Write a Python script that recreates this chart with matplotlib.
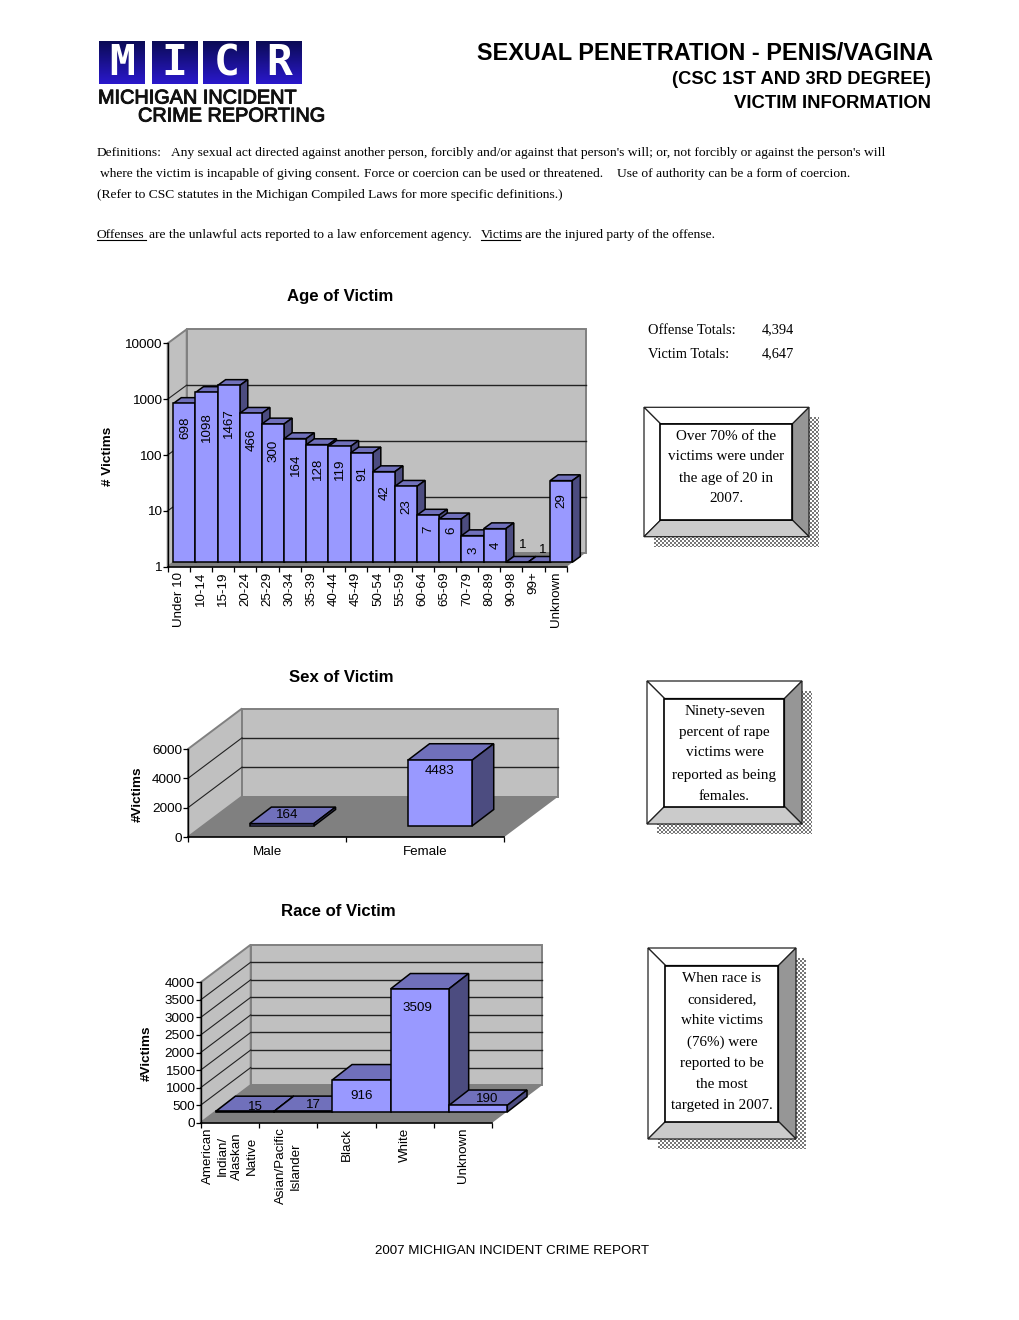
import numpy as np
import matplotlib
matplotlib.use('Agg')
import matplotlib.pyplot as plt
import matplotlib.patheffects as pe
from matplotlib.colors import LinearSegmentedColormap
from matplotlib.patches import Polygon, Rectangle
from matplotlib.transforms import Affine2D, IdentityTransform

plt.rcParams['font.family'] = ['Liberation Sans', 'DejaVu Sans']

W, H = 1020, 1320

# data
age_labels = ['Under 10', '10-14', '15-19', '20-24', '25-29', '30-34', '35-39', '40-44', '45-49', '50-54',
              '55-59', '60-64', '65-69', '70-79', '80-89', '90-98', '99+', 'Unknown']
age_values = [698, 1098, 1467, 466, 300, 164, 128, 119, 91, 42, 23, 7, 6, 3, 4, 1, 1, 29]
age_ticks = [1, 10, 100, 1000, 10000]

sex_labels = ['Male', 'Female']
sex_values = [164, 4483]
sex_ticks = [0, 2000, 4000, 6000]

race_labels = ['American\nIndian/\nAlaskan\nNative', 'Asian/Pacific\nIslander', 'Black', 'White', 'Unknown']
race_values = [15, 17, 916, 3509, 190]
race_ticks = [0, 500, 1000, 1500, 2000, 2500, 3000, 3500, 4000]

# label gap below the bar top in pixels, the two bars of height 1 carry theirs above
age_gap = [13, 20, 23, 15, 16, 15, 13, 12, 13, 14, 13, 11, 8, 11, 13, 0, 0, 12]
age_one_shift = {15: (6, -17), 16: (4, -12)}
sex_shift = [(5, -9), (0, 11)]
race_shift = [(11, -4), (10, -6), (0, 16), (-2, 19), (9, -6)]

FRONT = '#9999ff'
TOP = '#7070bb'
SIDE = '#4c4c80'
WALL = '#c0c0c0'
FLOOR = '#808080'
TICK_SIZE = 9.7
LABEL_SIZE = 9.6

fig = plt.figure(figsize=(W / 100, H / 100), dpi=100)
page = fig.add_axes([0, 0, 1, 1])
page.axis('off')


def chart_axes(x0, x1, ytop, ybot):
    ax = fig.add_axes([x0 / W, 1 - ybot / H, (x1 - x0) / W, (ybot - ytop) / H], zorder=2)
    ax.patch.set_visible(False)
    ax.spines['top'].set_visible(False)
    ax.spines['right'].set_visible(False)
    ax.spines['left'].set_linewidth(1.0)
    ax.spines['bottom'].set_linewidth(1.2)
    ax.tick_params(axis='both', which='major', length=3.5, width=0.9, labelsize=TICK_SIZE, pad=0.8)
    return ax


def px(ax, x, y, dx=0, dy=0):
    p = ax.transData.transform((x, y))
    return (p[0] + dx, p[1] + dy)


def poly(ax, pts, color, edge='none', lw=1.0, z=1):
    ax.add_patch(Polygon(pts, closed=True, facecolor=color, edgecolor=edge, linewidth=lw,
                         transform=IdentityTransform(), clip_on=False, zorder=z))


def room(ax, ticks, depth):
    dx, dy = depth
    x0, x1 = ax.get_xlim()
    y0, y1 = ax.get_ylim()
    poly(ax, [px(ax, x0, y0), px(ax, x0, y1), px(ax, x0, y1, dx, dy), px(ax, x0, y0, dx, dy)], WALL, FLOOR, 1.4)
    poly(ax, [px(ax, x0, y0, dx, dy), px(ax, x0, y1, dx, dy), px(ax, x1, y1, dx, dy), px(ax, x1, y0, dx, dy)], WALL, FLOOR, 1.4)
    poly(ax, [px(ax, x0, y0), px(ax, x1, y0), px(ax, x1, y0, dx, dy), px(ax, x0, y0, dx, dy)], FLOOR)
    for t in ticks[1:-1]:
        ax.plot([x0, x1], [t, t], color='#222222', lw=1.0, clip_on=False, zorder=1,
                transform=ax.transData + Affine2D().translate(dx, dy))
        a, b = px(ax, x0, t), px(ax, x0, t, dx, dy)
        ax.plot([a[0], b[0]], [a[1], b[1]], color='#222222', lw=0.8, clip_on=False, zorder=1,
                transform=IdentityTransform())


def bars(ax, values, base, width, off, deep):
    # off = where the front faces sit in the room, deep = how deep a bar is
    ox, oy = off
    ex, ey = off[0] + deep[0], off[1] + deep[1]
    for i, v in enumerate(values):
        l, r = i - width / 2, i + width / 2
        poly(ax, [px(ax, l, v, ox, oy), px(ax, r, v, ox, oy), px(ax, r, v, ex, ey), px(ax, l, v, ex, ey)],
             TOP, 'black', 1.1, 2)
        poly(ax, [px(ax, r, base, ox, oy), px(ax, r, v, ox, oy), px(ax, r, v, ex, ey), px(ax, r, base, ex, ey)],
             SIDE, 'black', 1.1, 2)
        ax.bar(i, v - base, bottom=base, width=width, color=FRONT, edgecolor='black', linewidth=1.1,
               clip_on=False, zorder=2, transform=ax.transData + Affine2D().translate(ox, oy))


def ticks_x(ax, n, labels, pad, **kw):
    ax.set_xticks(np.arange(n + 1) - 0.5)
    ax.set_xticklabels([])
    ax.set_xticks(np.arange(n), minor=True)
    ax.set_xticklabels(labels, minor=True, **kw)
    ax.tick_params(axis='x', which='minor', length=0, labelsize=LABEL_SIZE, pad=pad)


def shifted_labels(ax, values, off, shifts):
    for i, v in enumerate(values):
        tx, ty = px(ax, i, v, off[0], off[1])
        ax.text(tx + shifts[i][0], ty - shifts[i][1], str(v), fontsize=LABEL_SIZE, ha='center', va='center', zorder=5,
                transform=IdentityTransform())


# age chart
ax1 = chart_axes(167.7, 566.7, 343.3, 566.7)
ax1.set_yscale('log')
ax1.set_xlim(-0.5, len(age_values) - 0.5)
ax1.set_ylim(1, 10000)
ax1.set_yticks(age_ticks)
ax1.set_yticklabels([str(t) for t in age_ticks])
ax1.minorticks_off()
ticks_x(ax1, len(age_values), age_labels, 3.5, rotation=90)
room(ax1, age_ticks, (19, 14))
bars(ax1, age_values, 1, 1.0, (5.6, 4.4), (8, 5.8))
for i, (v, g) in enumerate(zip(age_values, age_gap)):
    tx, ty = px(ax1, i, v, 5.6, 4.4)
    if i in age_one_shift:
        sx, sy = age_one_shift[i]
        ax1.text(tx + sx, ty - sy, str(v), fontsize=LABEL_SIZE, ha='center', va='center', zorder=5,
                 transform=IdentityTransform())
    else:
        ax1.text(tx + 0.5, ty - g, str(v), fontsize=LABEL_SIZE, rotation=90, ha='center', va='top', zorder=5,
                 transform=IdentityTransform())

# sex chart
ax2 = chart_axes(188, 504.3, 749, 837)
ax2.set_xlim(-0.5, 1.5)
ax2.set_ylim(0, 6000)
ax2.set_yticks(sex_ticks)
ticks_x(ax2, 2, sex_labels, 6.5)
room(ax2, sex_ticks, (54, 40.5))
bars(ax2, sex_values, 0, 0.406, (14.7, 11), (21.7, 16.5))
shifted_labels(ax2, sex_values, (14.7, 11), sex_shift)

# race chart
ax3 = chart_axes(200.7, 492.3, 982.3, 1122.7)
ax3.set_xlim(-0.5, 4.5)
ax3.set_ylim(0, 4000)
ax3.set_yticks(race_ticks)
ticks_x(ax3, 5, race_labels, 3.5, rotation=90, multialignment='center', linespacing=1.3)
room(ax3, race_ticks, (50, 37.6))
bars(ax3, race_values, 0, 1.0, (15, 10.7), (19.7, 15.3))
shifted_labels(ax3, race_values, (15, 10.7), race_shift)

# logo
logo_cmap = LinearSegmentedColormap.from_list('logo', ['#0b0b55', '#2a18cc'])
grad = np.linspace(0, 1, 64).reshape(-1, 1)
for (a, b), ch in zip([(99.3, 145), (152, 197.3), (203.3, 249.3), (256, 301.7)], 'MICR'):
    page.imshow(grad, extent=(a, b, 84, 41.7), cmap=logo_cmap, aspect='auto', zorder=1, origin='upper')
    page.text((a + b) / 2, 63, ch, color='white', fontsize=31, family='DejaVu Sans Mono', fontweight='bold',
              ha='center', va='center', zorder=2)
thick = [pe.withStroke(linewidth=0.7, foreground='#111111')]
page.text(98, 98, 'MICHIGAN INCIDENT', fontsize=14.3, ha='left', va='center', color='#111111', path_effects=thick)
page.text(138, 116, 'CRIME REPORTING', fontsize=14.3, ha='left', va='center', color='#111111', path_effects=thick)

# title
page.text(933, 53, 'SEXUAL PENETRATION - PENIS/VAGINA', fontsize=16.9, fontweight='bold', ha='right', va='center')
page.text(931, 79, '(CSC 1ST AND 3RD DEGREE)', fontsize=13.2, fontweight='bold', ha='right', va='center')
page.text(931, 103, 'VICTIM INFORMATION', fontsize=13.3, fontweight='bold', ha='right', va='center')

# definitions
SERIF = 'Liberation Serif'
body = [
    (97, 153, 'Definitions:'), (171, 153, "Any sexual act directed against another person, forcibly and/or against that person's will; or, not forcibly or against the person's will"),
    (100, 174, 'where the victim is incapable of giving consent.'), (364, 174, 'Force or coercion can be used or threatened.'), (617, 174, 'Use of authority can be a form of coercion.'),
    (97, 195, '(Refer to CSC statutes in the Michigan Compiled Laws for more specific definitions.)'),
    (97, 235, 'Offenses'), (149, 235, 'are the unlawful acts reported to a law enforcement agency.'), (481, 235, 'Victims'), (525, 235, 'are the injured party of the offense.'),
]
for x, y, s in body:
    page.text(x, y, s, family=SERIF, fontsize=9.7, ha='left', va='center')
page.plot([97, 146], [240, 240], color='black', lw=0.8)
page.plot([481, 520], [240, 240], color='black', lw=0.8)

# totals
page.text(648, 330, 'Offense Totals:', family=SERIF, fontsize=10.4, va='center')
page.text(762, 330, '4,394', family=SERIF, fontsize=10.4, va='center')
page.text(648, 354, 'Victim Totals:', family=SERIF, fontsize=10.4, va='center')
page.text(762, 354, '4,647', family=SERIF, fontsize=10.4, va='center')


def note(x0, y0, x1, y1, b, lines, ys):
    sh = 10
    w, h = int(x1 - x0), int(y1 - y0)
    yy, xx = np.indices((h, w))
    dither = ((xx // 2 + yy // 2) % 2).astype(float)
    page.imshow(dither, extent=(x0 + sh, x1 + sh, y1 + sh, y0 + sh), cmap=LinearSegmentedColormap.from_list('d', ['#777777', 'white']),
                vmin=0, vmax=1, aspect='auto', interpolation='nearest', zorder=1)
    ix0, iy0, ix1, iy1 = x0 + b, y0 + b, x1 - b, y1 - b
    page.add_patch(Polygon([(x0, y0), (x1, y0), (ix1, iy0), (ix0, iy0)], fc='white', ec='#222222', lw=0.9, zorder=2))
    page.add_patch(Polygon([(x0, y0), (ix0, iy0), (ix0, iy1), (x0, y1)], fc='white', ec='#222222', lw=0.9, zorder=2))
    page.add_patch(Polygon([(x1, y0), (x1, y1), (ix1, iy1), (ix1, iy0)], fc='#969696', ec='#222222', lw=0.9, zorder=2))
    page.add_patch(Polygon([(x0, y1), (x1, y1), (ix1, iy1), (ix0, iy1)], fc='#cbcbcb', ec='#222222', lw=0.9, zorder=2))
    page.add_patch(Rectangle((ix0, iy0), ix1 - ix0, iy1 - iy0, fc='white', ec='black', lw=1.2, zorder=2))
    for s, y in zip(lines, ys):
        page.text((ix0 + ix1) / 2, y + 1, s, family=SERIF, fontsize=10.9, ha='center', va='center', zorder=3)


note(644, 407.3, 809, 536.7, 16.5, ['Over 70% of the', 'victims were under', 'the age of 20 in', '2007.'], [435, 456, 477, 498])
note(647, 681, 802, 824, 17.5, ['Ninety-seven', 'percent of rape', 'victims were', 'reported as being', 'females.'], [710, 731, 752, 774, 795])
note(648, 948, 796, 1139, 17.5, ['When race is', 'considered,', 'white victims', '(76%) were', 'reported to be', 'the most', 'targeted in 2007.'],
     [978, 999, 1020, 1041, 1063, 1084, 1105])

# chart headings
page.text(340, 296, 'Age of Victim', fontsize=12.1, fontweight='bold', ha='center', va='center')
page.text(341, 677, 'Sex of Victim', fontsize=12.1, fontweight='bold', ha='center', va='center')
page.text(338, 912, 'Race of Victim', fontsize=12.1, fontweight='bold', ha='center', va='center')
page.text(108, 456, '# Victims', fontsize=TICK_SIZE, fontweight='bold', rotation=90, ha='center', va='center')
page.text(138, 794, '#Victims', fontsize=TICK_SIZE, fontweight='bold', rotation=90, ha='center', va='center')
page.text(147, 1053, '#Victims', fontsize=TICK_SIZE, fontweight='bold', rotation=90, ha='center', va='center')
page.text(512, 1251, '2007 MICHIGAN INCIDENT CRIME REPORT', fontsize=9.6, ha='center', va='center')

page.set_xlim(0, W)
page.set_ylim(H, 0)
fig.savefig('out.png', dpi=100)
